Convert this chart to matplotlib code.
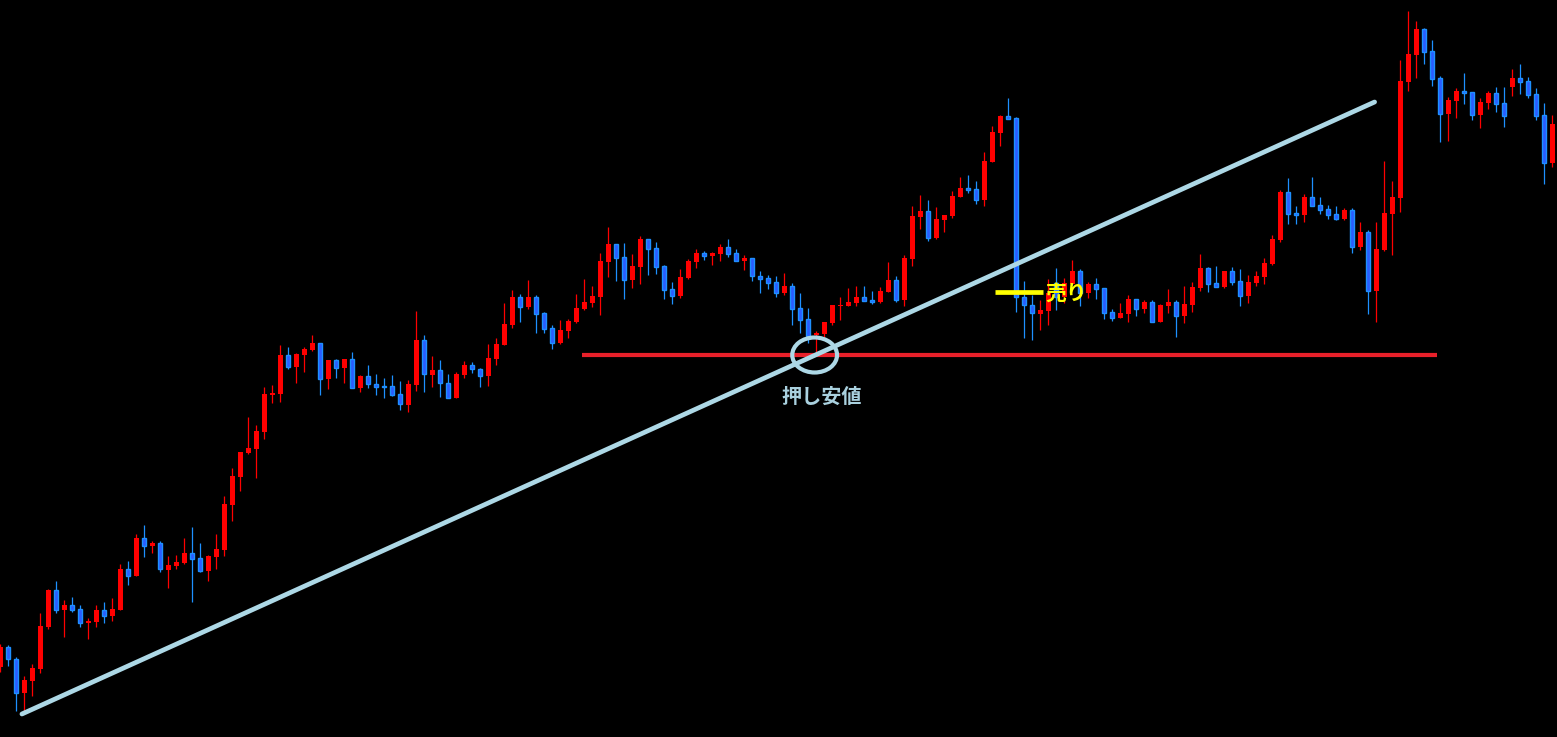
import matplotlib.pyplot as plt
from matplotlib.patches import Ellipse
import numpy as np

plt.rcParams['font.family'] = ['Noto Sans CJK JP', 'DejaVu Sans']

# OHLC levels (screen scale: smaller number = higher price)
opens = [667, 647, 659, 693, 681, 669, 627, 590, 610, 605, 609, 623, 622, 610, 616, 610, 569, 576, 538, 546,
         543, 570, 566, 563, 553, 558, 571, 557, 550, 505, 477, 453, 449, 432, 395, 394, 355, 367, 355, 350,
         343, 379, 360, 368, 359, 388, 376, 384, 386, 386, 394, 405, 385, 340, 375, 370, 383, 398, 375, 365,
         369, 376, 359, 345, 325, 297, 307, 297, 313, 328, 343, 331, 322, 309, 303, 297, 262, 244, 257, 280,
         267, 239, 248, 266, 289, 296, 278, 262, 253, 256, 254, 247, 253, 261, 258, 276, 278, 282, 293, 286,
         308, 319, 335, 334, 323, 306, 306, 303, 297, 300, 302, 292, 280, 300, 259, 217, 211, 238, 220, 216,
         197, 188, 189, 200, 162, 133, 116, 118, 297, 305, 314, 311, 283, 297, 284, 271, 293, 284, 288, 312,
         318, 314, 299, 309, 302, 322, 306, 302, 316, 305, 288, 268, 283, 287, 271, 281, 296, 283, 277, 264,
         240, 192, 213, 215, 197, 205, 209, 214, 219, 210, 247, 232, 291, 250, 214, 198, 82, 55, 29, 51,
         78, 114, 101, 91, 92, 115, 103, 93, 103, 87, 78, 81, 94, 115, 163]
highs = [644, 645, 657, 676, 664, 613, 589, 581, 600, 597, 605, 618, 605, 602, 598, 564, 561, 534, 525, 541,
         541, 556, 555, 538, 527, 543, 555, 534, 496, 468, 452, 417, 425, 387, 385, 345, 347, 353, 347, 335,
         343, 360, 359, 359, 352, 375, 365, 374, 378, 375, 381, 380, 311, 335, 356, 360, 374, 372, 361, 362,
         368, 344, 338, 303, 290, 294, 280, 295, 312, 325, 320, 319, 294, 279, 286, 253, 227, 244, 243, 254,
         236, 239, 242, 265, 282, 269, 259, 249, 251, 252, 244, 239, 249, 255, 258, 271, 275, 276, 273, 283,
         293, 308, 331, 322, 305, 297, 288, 286, 286, 291, 287, 262, 276, 255, 206, 195, 200, 207, 215, 191,
         177, 175, 181, 152, 126, 115, 98, 117, 281, 295, 300, 279, 268, 278, 260, 269, 282, 278, 288, 309,
         303, 295, 299, 300, 300, 304, 289, 300, 286, 282, 254, 267, 266, 271, 267, 269, 275, 271, 258, 235,
         190, 178, 206, 194, 177, 197, 205, 206, 208, 208, 222, 230, 222, 161, 181, 60, 11, 21, 28, 40,
         76, 97, 88, 73, 92, 98, 91, 87, 87, 69, 64, 77, 88, 103, 115]
lows = [672, 666, 711, 711, 696, 673, 629, 613, 637, 612, 627, 639, 627, 623, 621, 610, 585, 576, 557, 553,
        572, 588, 569, 564, 602, 572, 581, 569, 556, 521, 491, 454, 478, 439, 403, 402, 369, 383, 372, 351,
        395, 389, 378, 383, 388, 392, 388, 395, 398, 396, 410, 412, 391, 392, 387, 397, 398, 398, 378, 373,
        387, 386, 365, 345, 328, 322, 309, 333, 333, 349, 344, 338, 323, 310, 307, 315, 277, 281, 299, 288,
        284, 275, 274, 299, 304, 298, 279, 268, 260, 265, 261, 257, 261, 270, 281, 293, 289, 297, 295, 325,
        333, 343, 353, 337, 325, 320, 306, 306, 301, 304, 303, 292, 302, 306, 266, 229, 241, 239, 232, 218,
        197, 193, 204, 206, 162, 146, 119, 312, 338, 340, 330, 325, 310, 303, 284, 306, 298, 299, 319, 321,
        318, 322, 316, 313, 322, 322, 313, 337, 323, 312, 291, 292, 287, 288, 285, 306, 303, 286, 284, 265,
        242, 224, 224, 222, 206, 214, 219, 220, 220, 253, 250, 314, 322, 251, 255, 212, 91, 78, 64, 86,
        142, 141, 118, 104, 120, 128, 109, 112, 127, 96, 94, 98, 120, 184, 167]
closes = [647, 659, 693, 680, 668, 626, 590, 610, 605, 610, 623, 621, 610, 616, 609, 569, 576, 538, 546, 543,
          569, 565, 562, 553, 559, 571, 556, 549, 504, 476, 452, 448, 431, 394, 393, 355, 367, 354, 349, 343,
          379, 360, 368, 359, 388, 376, 384, 387, 387, 395, 404, 384, 340, 374, 370, 383, 398, 374, 365, 369,
          376, 358, 344, 324, 297, 307, 297, 314, 329, 343, 330, 321, 308, 302, 296, 261, 244, 258, 280, 266,
          239, 249, 267, 290, 296, 277, 261, 253, 256, 253, 247, 254, 261, 258, 276, 279, 283, 293, 286, 309,
          320, 336, 333, 322, 305, 305, 302, 297, 301, 302, 291, 280, 300, 258, 216, 211, 238, 219, 215, 196,
          188, 190, 200, 161, 132, 116, 119, 297, 305, 313, 310, 293, 297, 283, 271, 293, 284, 289, 313, 318,
          313, 299, 309, 302, 322, 305, 302, 316, 304, 287, 268, 284, 287, 271, 282, 296, 282, 276, 263, 239,
          192, 214, 215, 197, 206, 210, 215, 219, 210, 247, 232, 291, 249, 213, 197, 81, 54, 29, 52, 79,
          114, 100, 91, 93, 115, 102, 93, 104, 116, 78, 82, 95, 116, 163, 124]

# annotation anchors (candle index, level)
trend_start = (2.7, 714)
trend_end = (171.8, 102)
support_level = 355
support_span = (72.7, 179.6)
sell_level = 292
sell_span = (124.3, 130.3)

RED = '#FF0000'
BLUE_FILL = '#2A5CFF'
BLUE_EDGE = '#1E90FF'

fig = plt.figure(figsize=(15.57, 7.37), dpi=100, facecolor='black')
ax = fig.add_axes([0, 0, 1, 1])
ax.set_facecolor('black')

o = np.array(opens)
h = np.array(highs)
l = np.array(lows)
c = np.array(closes)
idx = np.arange(len(o))
up = c < o  # higher price = smaller screen level

wick_col = np.where(up, RED, BLUE_EDGE)
ax.vlines(idx, h, l, colors=wick_col, linewidth=0.9, zorder=2)

top = np.minimum(o, c)
height = np.maximum(np.abs(o - c), 1)
ax.bar(idx[up], height[up], bottom=top[up], width=0.64, color=RED, linewidth=0, zorder=3)
ax.bar(idx[~up], height[~up], bottom=top[~up], width=0.54, color=BLUE_FILL,
       edgecolor=BLUE_EDGE, linewidth=1.0, zorder=3)

# trend line
ax.plot([trend_start[0], trend_end[0]], [trend_start[1], trend_end[1]],
        color='#ADD8E6', linewidth=3.4, solid_capstyle='round', zorder=5)

# support (押し安値) line
ax.plot(support_span, [support_level, support_level], color='#E8202A', linewidth=3.0,
        solid_capstyle='butt', zorder=4)
ax.add_patch(Ellipse((101.8, support_level), width=5.6, height=35, fill=False,
                     edgecolor='#ADD8E6', linewidth=3.0, zorder=6))
ax.text(102.7, 396, '押し安値', color='#A9D0DE', fontsize=14.5, fontweight='bold',
        ha='center', va='center', zorder=6)

# sell marker
ax.plot(sell_span, [sell_level, sell_level], color='#FFFF00', linewidth=3.4,
        solid_capstyle='butt', zorder=6)
ax.text(130.6, 293, '売り', color='#FFFF00', fontsize=15, fontweight='bold',
        ha='left', va='center', zorder=6)

ax.set_xlim(-0.04, 194.6)
ax.set_ylim(737, 0)
ax.axis('off')

fig.savefig('out.png', dpi=100, facecolor='black')
